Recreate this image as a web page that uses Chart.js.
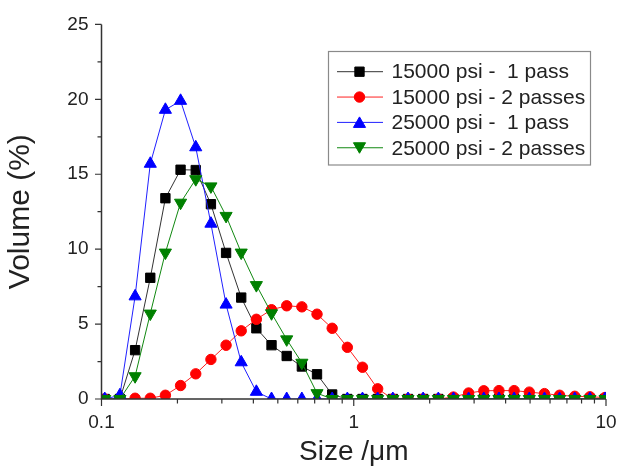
<!DOCTYPE html>
<html>
<head>
<meta charset="utf-8">
<script src="https://cdn.jsdelivr.net/npm/chart.js@4/dist/chart.umd.min.js"></script>
<style>
html,body{margin:0;padding:0;background:#fff;}
#wrap{width:630px;height:467px;position:relative;}
</style>
</head>
<body>
<div id="wrap"><canvas id="c" width="630" height="467"></canvas></div>
<script>
// Size classes (µm)
const sizes = [0.1030,0.1183,0.1359,0.1561,0.1792,0.2058,0.2364,0.2715,0.3118,0.3580,0.4111,0.4721,0.5422,0.6227,0.7151,0.8212,0.9432,1.083,1.244,1.429,1.641,1.884,2.164,2.485,2.854,3.278,3.764,4.323,4.965,5.702,6.546,7.518,8.634,9.915];

// Volume (%) for each series
const vol15k1pass = [0,0,3.26,8.09,13.4,15.3,15.28,13.0,9.75,6.77,4.72,3.59,2.87,2.17,1.65,0.3,0,0,0,0,0,0,0,0,0,0,0,0,0,0,0,0,0,0];
const vol15k2pass = [0,0,0.05,0.05,0.25,0.9,1.68,2.64,3.59,4.55,5.32,5.96,6.22,6.15,5.66,4.72,3.45,2.12,0.68,0,0,0,0,0.13,0.4,0.55,0.56,0.56,0.46,0.36,0.25,0.18,0.15,0.1];
const vol25k1pass = [0,0.25,6.85,15.7,19.3,19.9,16.8,11.7,6.3,2.45,0.48,0,0,0,0,0,0,0,0,0,0,0,0,0,0,0,0,0,0,0,0,0,0,0];
const vol25k2pass = [0,0,1.52,5.7,9.77,13.1,14.67,14.19,12.22,9.77,7.6,5.72,3.98,2.42,0.39,0,0,0,0,0,0,0,0,0,0,0,0,0,0,0,0,0,0,0];

const seriesNames = ['15000 psi -  1 pass','15000 psi - 2 passes','25000 psi -  1 pass','25000 psi - 2 passes'];

// Tick values
const xMajorTicks = [0.1,1,10];
const xMinorTicks = [0.2,0.3,0.4,0.5,0.6,0.7,0.8,0.9,2,3,4,5,6,7,8,9];
const yMajorTicks = [0,5,10,15,20,25];
const yMinorTicks = [2.5,7.5,12.5,17.5,22.5];

const FONT = "'Liberation Sans', Arial, Helvetica, sans-serif";
Chart.defaults.font.family = FONT;
Chart.defaults.color = '#222';

const styles = [
  {color:'#000000', line:'#333333', pointStyle:'rect', radius:6.6, rotation:0},
  {color:'#ff0000', line:'#ff2020', pointStyle:'circle', radius:5.2, rotation:0},
  {color:'#0000ff', line:'#2020ff', pointStyle:'triangle', radius:7, rotation:0},
  {color:'#008000', line:'#108810', pointStyle:'triangle', radius:7, rotation:180}
];
const seriesValues = [vol15k1pass, vol15k2pass, vol25k1pass, vol25k2pass];

const datasets = seriesValues.map((vals, i) => ({
  label: seriesNames[i],
  data: sizes.map((s, k) => ({x: s, y: vals[k]})),
  borderColor: styles[i].line,
  borderWidth: 1,
  backgroundColor: styles[i].color,
  pointBackgroundColor: styles[i].color,
  pointBorderColor: styles[i].color,
  pointBorderWidth: 1,
  pointStyle: styles[i].pointStyle,
  pointRadius: styles[i].radius,
  pointRotation: styles[i].rotation,
  pointHoverRadius: styles[i].radius,
  tension: 0,
  fill: false,
  order: 4 - i
}));

function drawMarker(ctx, st, x, y) {
  ctx.fillStyle = st.color;
  ctx.strokeStyle = st.color;
  ctx.lineWidth = 1;
  if (Chart.helpers && Chart.helpers.drawPoint) {
    Chart.helpers.drawPoint(ctx, {pointStyle: st.pointStyle, radius: st.radius, rotation: st.rotation, borderWidth: 1}, x, y);
  } else {
    ctx.beginPath();
    ctx.arc(x, y, st.radius, 0, Math.PI * 2);
    ctx.fill();
  }
}

const axesAndLegend = {
  id: 'axesAndLegend',
  afterDraw(chart) {
    const {ctx, chartArea: a, scales: {x, y}} = chart;
    ctx.save();
    // axis lines
    ctx.strokeStyle = '#333';
    ctx.lineWidth = 1.5;
    ctx.beginPath();
    ctx.moveTo(a.left, a.top);
    ctx.lineTo(a.left, a.bottom);
    ctx.lineTo(a.right, a.bottom);
    ctx.stroke();
    // ticks (outward)
    ctx.lineWidth = 1.2;
    ctx.beginPath();
    xMajorTicks.forEach(v => { const p = x.getPixelForValue(v); ctx.moveTo(p, a.bottom); ctx.lineTo(p, a.bottom + 7); });
    xMinorTicks.forEach(v => { const p = x.getPixelForValue(v); ctx.moveTo(p, a.bottom); ctx.lineTo(p, a.bottom + 4.5); });
    yMajorTicks.forEach(v => { const p = y.getPixelForValue(v); ctx.moveTo(a.left, p); ctx.lineTo(a.left - 6.5, p); });
    yMinorTicks.forEach(v => { const p = y.getPixelForValue(v); ctx.moveTo(a.left, p); ctx.lineTo(a.left - 4, p); });
    ctx.stroke();

    // legend
    const bx = 328.5, by = 51.5, bw = 262, bh = 113.5;
    ctx.fillStyle = '#fff';
    ctx.fillRect(bx, by, bw, bh);
    ctx.strokeStyle = '#8a8a8a';
    ctx.lineWidth = 1.2;
    ctx.strokeRect(bx, by, bw, bh);
    ctx.font = '21px ' + FONT;
    ctx.textBaseline = 'middle';
    ctx.textAlign = 'left';
    seriesNames.forEach((name, i) => {
      const ry = 71.7 + 25.35 * i;
      const st = styles[i];
      ctx.strokeStyle = st.line;
      ctx.lineWidth = 1;
      ctx.beginPath();
      ctx.moveTo(337, ry);
      ctx.lineTo(383, ry);
      ctx.stroke();
      drawMarker(ctx, st, 359.5, ry + (st.pointStyle === 'triangle' ? (st.rotation ? -1.5 : 1.5) : 0));
      ctx.fillStyle = '#222';
      ctx.fillText(name, 391.5, ry + 1);
    });
    ctx.restore();
  }
};

new Chart(document.getElementById('c'), {
  type: 'line',
  data: {datasets},
  options: {
    responsive: false,
    animation: false,
    events: [],
    layout: {padding: {left: 0, top: 23, right: 24, bottom: 0}},
    plugins: {legend: {display: false}, tooltip: {enabled: false}, title: {display: false}},
    scales: {
      x: {
        type: 'logarithmic',
        min: 0.1,
        max: 10,
        grid: {display: false, drawTicks: false},
        border: {display: false},
        afterBuildTicks: (s) => { s.ticks = xMajorTicks.map(v => ({value: v})); },
        afterFit: (s) => { s.height = 68; },
        ticks: {
          autoSkip: false,
          maxRotation: 0,
          padding: 12,
          color: '#222',
          font: {size: 19, family: FONT},
          callback: (v) => String(v)
        },
        title: {
          display: true,
          text: 'Size /μm',
          color: '#222',
          font: {size: 28, family: FONT, lineHeight: 1.06},
          padding: {top: 0, bottom: 0}
        }
      },
      y: {
        type: 'linear',
        min: 0,
        max: 25,
        grid: {display: false, drawTicks: false},
        border: {display: false},
        afterBuildTicks: (s) => { s.ticks = yMajorTicks.map(v => ({value: v})); },
        afterFit: (s) => { s.width = 101.5; },
        ticks: {
          padding: 13,
          color: '#222',
          font: {size: 19, family: FONT},
          callback: (v) => String(v)
        },
        title: {
          display: true,
          text: 'Volume (%)',
          color: '#222',
          font: {size: 30, family: FONT, lineHeight: 1.06},
          padding: {top: 5, bottom: 0}
        }
      }
    }
  },
  plugins: [axesAndLegend]
});
</script>
</body>
</html>
